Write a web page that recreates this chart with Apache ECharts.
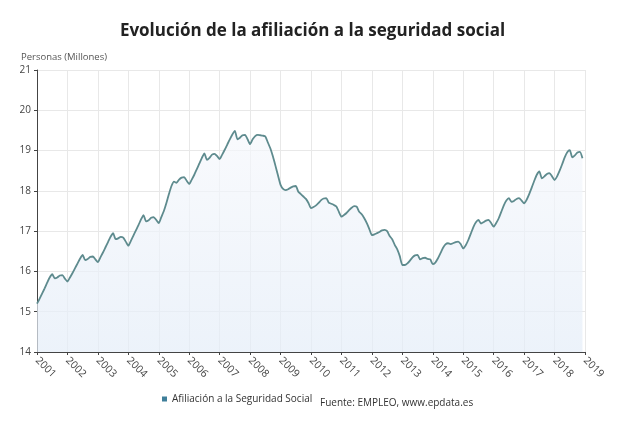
<!DOCTYPE html>
<html>
<head>
<meta charset="utf-8">
<script src="https://cdn.jsdelivr.net/npm/echarts@6/dist/echarts.min.js"></script>
<style>
html, body { margin: 0; padding: 0; background: #fff; }
#chart { width: 625px; height: 421px; }
</style>
</head>
<body>
<div id="chart"></div>
<script>
var myChart = echarts.init(document.getElementById('chart'));

// afiliados medios por mes (millones), enero a diciembre
var years = [2001, 2002, 2003, 2004, 2005, 2006, 2007, 2008, 2009,
    2010, 2011, 2012, 2013, 2014, 2015, 2016, 2017, 2018];

var monthly = [
    [15.20, 15.32, 15.45, 15.58, 15.72, 15.85, 15.93, 15.83, 15.85, 15.90, 15.91, 15.82],
    [15.75, 15.85, 15.96, 16.08, 16.20, 16.32, 16.41, 16.28, 16.31, 16.36, 16.37, 16.30],
    [16.23, 16.35, 16.47, 16.60, 16.73, 16.86, 16.95, 16.80, 16.82, 16.86, 16.84, 16.74],
    [16.64, 16.76, 16.89, 17.02, 17.15, 17.29, 17.40, 17.24, 17.27, 17.33, 17.35, 17.28],
    [17.20, 17.35, 17.50, 17.70, 17.92, 18.12, 18.23, 18.20, 18.28, 18.33, 18.34, 18.25],
    [18.17, 18.28, 18.40, 18.54, 18.68, 18.82, 18.93, 18.77, 18.82, 18.90, 18.92, 18.86],
    [18.79, 18.90, 19.02, 19.15, 19.28, 19.40, 19.49, 19.28, 19.32, 19.38, 19.39, 19.28],
    [19.16, 19.28, 19.36, 19.39, 19.38, 19.37, 19.35, 19.20, 19.05, 18.85, 18.62, 18.38],
    [18.15, 18.05, 18.02, 18.04, 18.08, 18.11, 18.12, 17.98, 17.92, 17.86, 17.80, 17.70],
    [17.57, 17.60, 17.64, 17.70, 17.77, 17.81, 17.82, 17.71, 17.68, 17.65, 17.61, 17.48],
    [17.36, 17.40, 17.45, 17.52, 17.58, 17.62, 17.61, 17.48, 17.42, 17.32, 17.20, 17.05],
    [16.90, 16.92, 16.95, 16.98, 17.02, 17.03, 17.00, 16.88, 16.80, 16.66, 16.55, 16.38],
    [16.16, 16.16, 16.20, 16.27, 16.35, 16.40, 16.41, 16.30, 16.33, 16.34, 16.31, 16.30],
    [16.18, 16.22, 16.32, 16.45, 16.58, 16.67, 16.70, 16.68, 16.70, 16.73, 16.74, 16.68],
    [16.57, 16.65, 16.78, 16.94, 17.10, 17.22, 17.28, 17.19, 17.22, 17.26, 17.28, 17.20],
    [17.11, 17.20, 17.32, 17.48, 17.64, 17.76, 17.82, 17.73, 17.75, 17.80, 17.82, 17.76],
    [17.69, 17.78, 17.92, 18.08, 18.25, 18.40, 18.48, 18.31, 18.36, 18.42, 18.44, 18.36],
    [18.27, 18.36, 18.50, 18.66, 18.83, 18.96, 19.01, 18.83, 18.88, 18.95, 18.97, 18.81]
];

var yearTicks = [2001, 2002, 2003, 2004, 2005, 2006, 2007, 2008, 2009, 2010,
    2011, 2012, 2013, 2014, 2015, 2016, 2017, 2018, 2019];

var seriesName = 'Afiliación a la Seguridad Social';

var data = [];
years.forEach(function (y, i) {
    monthly[i].forEach(function (v, m) {
        data.push([y + m / 12, v]);
    });
});

var font = '"Open Sans", "Noto Sans", sans-serif';

option = {
    backgroundColor: '#fff',
    title: {
        text: 'Evolución de la afiliación a la seguridad social',
        left: 'center',
        top: 18,
        textStyle: {
            fontFamily: font,
            fontSize: 17,
            fontWeight: 'bold',
            color: '#222'
        }
    },
    grid: {
        left: 37,
        right: 40,
        top: 70,
        bottom: 69
    },
    legend: {
        bottom: 12,
        left: 157,
        icon: 'rect',
        itemWidth: 5,
        itemHeight: 5,
        itemGap: 4,
        textStyle: {
            fontFamily: font,
            fontSize: 10,
            color: '#333'
        },
        data: [{ name: seriesName, itemStyle: { color: '#3f7f9a' } }]
    },
    graphic: [
        {
            type: 'text',
            left: 21,
            top: 52,
            style: {
                text: 'Personas (Millones)',
                font: '9.5px ' + font,
                fill: '#555'
            }
        },
        {
            type: 'text',
            left: 320,
            bottom: 13,
            style: {
                text: 'Fuente: EMPLEO, www.epdata.es',
                font: '10px ' + font,
                fill: '#333'
            }
        }
    ],
    xAxis: {
        type: 'value',
        min: 2001,
        max: 2019,
        interval: 1,
        axisLine: { lineStyle: { color: '#444' } },
        axisTick: { show: true, length: 3, lineStyle: { color: '#444' } },
        splitLine: { lineStyle: { color: '#e8e8e8' } },
        axisLabel: {
            rotate: -45,
            margin: 7,
            fontFamily: font,
            fontSize: 10.5,
            color: '#444',
            formatter: function (v) {
                return yearTicks.indexOf(v) >= 0 ? String(v) : '';
            }
        }
    },
    yAxis: {
        type: 'value',
        min: 14,
        max: 21,
        interval: 1,
        axisLine: { show: true, lineStyle: { color: '#444' } },
        axisTick: { show: true, length: 3, lineStyle: { color: '#444' } },
        splitLine: { lineStyle: { color: '#e8e8e8' } },
        axisLabel: {
            margin: 6,
            fontFamily: font,
            fontSize: 10,
            color: '#444'
        }
    },
    series: [{
        name: seriesName,
        type: 'line',
        data: data,
        showSymbol: false,
        smooth: 0.2,
        lineStyle: {
            color: '#5e8b8e',
            width: 1.8
        },
        itemStyle: { color: '#3f7f9a' },
        areaStyle: {
            origin: 'start',
            color: new echarts.graphic.LinearGradient(0, 0, 0, 1, [
                { offset: 0, color: 'rgba(246,248,252,1)' },
                { offset: 1, color: 'rgba(228,237,248,1)' }
            ])
        }
    }]
};
myChart.setOption(option);
</script>
</body>
</html>
